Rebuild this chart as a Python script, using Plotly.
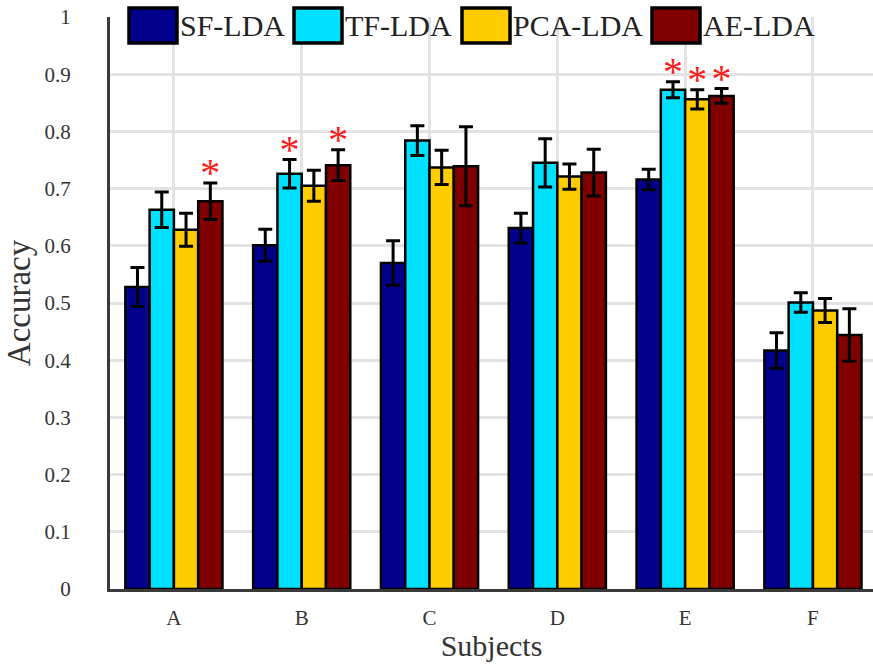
import plotly.graph_objects as go

# Classification accuracy per subject for four feature-extraction pipelines
subjects = ["A", "B", "C", "D", "E", "F"]
methods = ["SF-LDA", "TF-LDA", "PCA-LDA", "AE-LDA"]
colors = ["#00008C", "#00E0FF", "#FFCC00", "#800000"]

sf_lda = [0.528, 0.601, 0.570, 0.631, 0.716, 0.417]
tf_lda = [0.663, 0.726, 0.784, 0.745, 0.873, 0.501]
pca_lda = [0.628, 0.705, 0.737, 0.721, 0.856, 0.487]
ae_lda = [0.678, 0.741, 0.739, 0.728, 0.862, 0.444]

sf_err = [0.034, 0.028, 0.039, 0.026, 0.018, 0.031]
tf_err = [0.031, 0.025, 0.026, 0.042, 0.014, 0.017]
pca_err = [0.029, 0.027, 0.030, 0.022, 0.017, 0.021]
ae_err = [0.032, 0.027, 0.069, 0.041, 0.013, 0.046]

# Significant improvements over SF-LDA: (subject index, method index)
significant = [(0, 3), (1, 1), (1, 3), (4, 1), (4, 2), (4, 3)]

values = [sf_lda, tf_lda, pca_lda, ae_lda]
errors = [sf_err, tf_err, pca_err, ae_err]

SERIF = "Liberation Serif, Times New Roman, Times, DejaVu Serif, serif"

BARGAP = 0.24
n_methods = len(methods)
bar_w = (1 - BARGAP) / n_methods

fig = go.Figure()
xs = list(range(len(subjects)))
for k, name in enumerate(methods):
    fig.add_trace(go.Bar(
        x=xs, y=values[k], name=name,
        marker=dict(color=colors[k], line=dict(color="black", width=2.5)),
        error_y=dict(type="data", array=errors[k], visible=True,
                     color="black", thickness=3, width=7),
        showlegend=False,
    ))

# significance asterisks above the error bars
star_x, star_y = [], []
for i, k in significant:
    star_x.append(i + (k - (n_methods - 1) / 2) * bar_w)
    star_y.append(values[k][i] + errors[k][i] + 0.012)
fig.add_trace(go.Scatter(
    x=star_x, y=star_y, mode="text", text=["*"] * len(star_x),
    textposition="middle center",
    textfont=dict(family=SERIF, size=40, color="#FF1A1A"),
    showlegend=False, hoverinfo="skip",
))

# plot-area geometry in pixels (used to place the legend)
W, H = 873, 671
L, R, T, B = 110, 0, 17, 82
pw, ph = W - L - R, H - T - B

def px_x(p):
    return (p - L) / pw

def px_y(p):
    return (H - B - p) / ph

legend_boxes = [129, 294, 462, 652]
box_w, box_top, box_bot = 48, 8, 43
shapes = []
annotations = []
for k, name in enumerate(methods):
    x0 = legend_boxes[k]
    shapes.append(dict(
        type="rect", xref="paper", yref="paper",
        x0=px_x(x0), x1=px_x(x0 + box_w), y0=px_y(box_bot), y1=px_y(box_top),
        fillcolor=colors[k], line=dict(color="black", width=3.5), layer="above",
    ))
    annotations.append(dict(
        xref="paper", yref="paper", x=px_x(x0 + box_w + 1), y=px_y(26),
        xanchor="left", yanchor="middle", text=name, showarrow=False,
        font=dict(family=SERIF, size=30, color="#222222"),
    ))

fig.update_layout(
    width=W, height=H,
    margin=dict(l=L, r=R, t=T, b=B, pad=0),
    paper_bgcolor="white", plot_bgcolor="white",
    barmode="group", bargap=BARGAP, bargroupgap=0,
    font=dict(family=SERIF, color="#333333"),
    shapes=shapes, annotations=annotations,
    xaxis=dict(
        range=[-0.5, 5.47], tickmode="array", tickvals=xs, ticktext=subjects,
        showgrid=True, gridcolor="#E3E3E3", gridwidth=2.5,
        showline=True, linecolor="#3A3A3A", linewidth=3,
        ticks="", tickfont=dict(family=SERIF, size=21, color="#333333"),
        ticklabelstandoff=8,
        title=dict(text="Subjects", font=dict(family=SERIF, size=30, color="#333333"), standoff=6),
        zeroline=False,
    ),
    yaxis=dict(
        range=[0, 1], tickmode="array",
        tickvals=[0, 0.1, 0.2, 0.3, 0.4, 0.5, 0.6, 0.7, 0.8, 0.9, 1],
        ticktext=["0", "0.1", "0.2", "0.3", "0.4", "0.5", "0.6", "0.7", "0.8", "0.9", "1"],
        showgrid=True, gridcolor="#E3E3E3", gridwidth=2.5,
        showline=True, linecolor="#3A3A3A", linewidth=3,
        ticks="", tickfont=dict(family=SERIF, size=21, color="#333333"),
        ticklabelstandoff=32,
        title=dict(text="Accuracy", font=dict(family=SERIF, size=33, color="#333333"), standoff=4),
        zeroline=False,
    ),
)

fig.write_html("out.html")
